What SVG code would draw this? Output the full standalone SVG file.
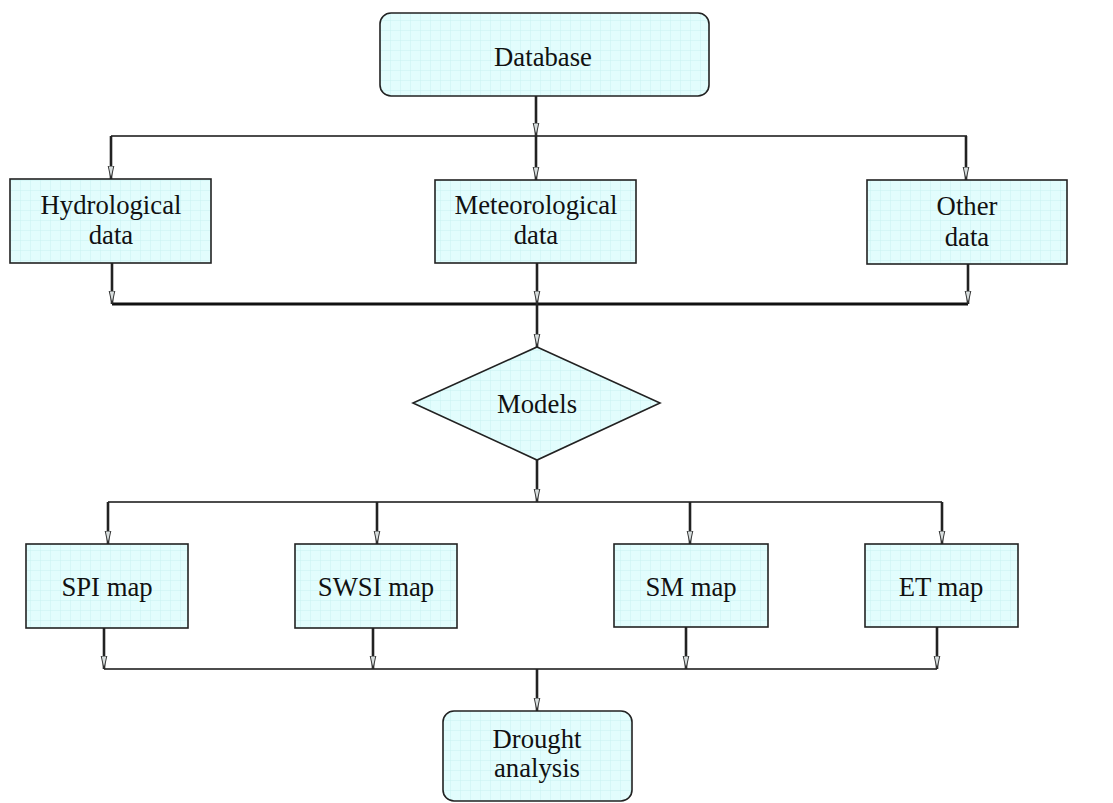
<svg xmlns="http://www.w3.org/2000/svg" width="1113" height="803" viewBox="0 0 1113 803">
<style>
.node{fill:url(#grid);stroke:#222;stroke-width:1.6}
.lbl{font-family:"Liberation Serif","Times New Roman",serif;font-size:26.7px;fill:#111;text-anchor:middle}
.ln{fill:none;stroke:#111;stroke-width:1.6}
.bold{fill:none;stroke:#111;stroke-width:3}
.arr{fill:none;stroke:#222;stroke-width:2.6;marker-end:url(#ah)}
</style>
<defs>
<pattern id="grid" patternUnits="userSpaceOnUse" width="10" height="10">
<rect width="10" height="10" fill="#E2FDFD"/>
<path d="M0,0.25 H10 M0.25,0 V10" stroke="#C4EFEF" stroke-width="0.6"/>
</pattern>
<marker id="ah" markerUnits="userSpaceOnUse" markerWidth="14" markerHeight="8" refX="13" refY="4" orient="auto">
<path d="M0,1.2 L13,4 L0,6.8 Z" fill="#d8dede" stroke="#222" stroke-width="0.9"/>
</marker>
</defs>
<rect width="1113" height="803" fill="#fff"/>
<g id="connectors">
<path class="ln" d="M111,136 H967"/>
<path class="bold" d="M112,304 H968"/>
<path class="ln" d="M108,502 H942"/>
<path class="ln" d="M104,669 H937"/>
<path class="arr" d="M536,96 V136"/>
<path class="arr" d="M536,136 V180"/>
<path class="arr" d="M111,136 V179"/>
<path class="arr" d="M966,136 V180"/>
<path class="arr" d="M112,263 V304"/>
<path class="arr" d="M537,263 V304"/>
<path class="arr" d="M968,264 V304"/>
<path class="arr" d="M537,304 V347"/>
<path class="arr" d="M537,460 V502"/>
<path class="arr" d="M108,502 V544"/>
<path class="arr" d="M377,502 V544"/>
<path class="arr" d="M690,502 V544"/>
<path class="arr" d="M942,502 V544"/>
<path class="arr" d="M104,628 V669"/>
<path class="arr" d="M373,628 V669"/>
<path class="arr" d="M686,627 V669"/>
<path class="arr" d="M937,627 V669"/>
<path class="arr" d="M537,669 V711"/>
</g>
<g id="database">
<rect class="node" x="380" y="13" width="329" height="83" rx="11"/>
<text class="lbl" x="543" y="66">Database</text>
</g>
<g id="hydrological">
<rect class="node" x="10" y="179" width="201" height="84"/>
<text class="lbl" x="111" y="214">Hydrological</text>
<text class="lbl" x="111" y="244">data</text>
</g>
<g id="meteorological">
<rect class="node" x="435" y="180" width="201" height="83"/>
<text class="lbl" x="536" y="214">Meteorological</text>
<text class="lbl" x="536" y="244">data</text>
</g>
<g id="other">
<rect class="node" x="867" y="180" width="200" height="84"/>
<text class="lbl" x="967" y="215">Other</text>
<text class="lbl" x="967" y="246">data</text>
</g>
<g id="models">
<polygon class="node" points="537,347 660,403 537,460 413,403"/>
<text class="lbl" x="537" y="413">Models</text>
</g>
<g id="spi">
<rect class="node" x="26" y="544" width="162" height="84"/>
<text class="lbl" x="107" y="596">SPI map</text>
</g>
<g id="swsi">
<rect class="node" x="295" y="544" width="162" height="84"/>
<text class="lbl" x="376" y="596">SWSI map</text>
</g>
<g id="sm">
<rect class="node" x="614" y="544" width="154" height="83"/>
<text class="lbl" x="691" y="596">SM map</text>
</g>
<g id="et">
<rect class="node" x="865" y="544" width="153" height="83"/>
<text class="lbl" x="941" y="596">ET map</text>
</g>
<g id="drought">
<rect class="node" x="443" y="711" width="189" height="90" rx="11"/>
<text class="lbl" x="537" y="748">Drought</text>
<text class="lbl" x="537" y="777">analysis</text>
</g>
</svg>
